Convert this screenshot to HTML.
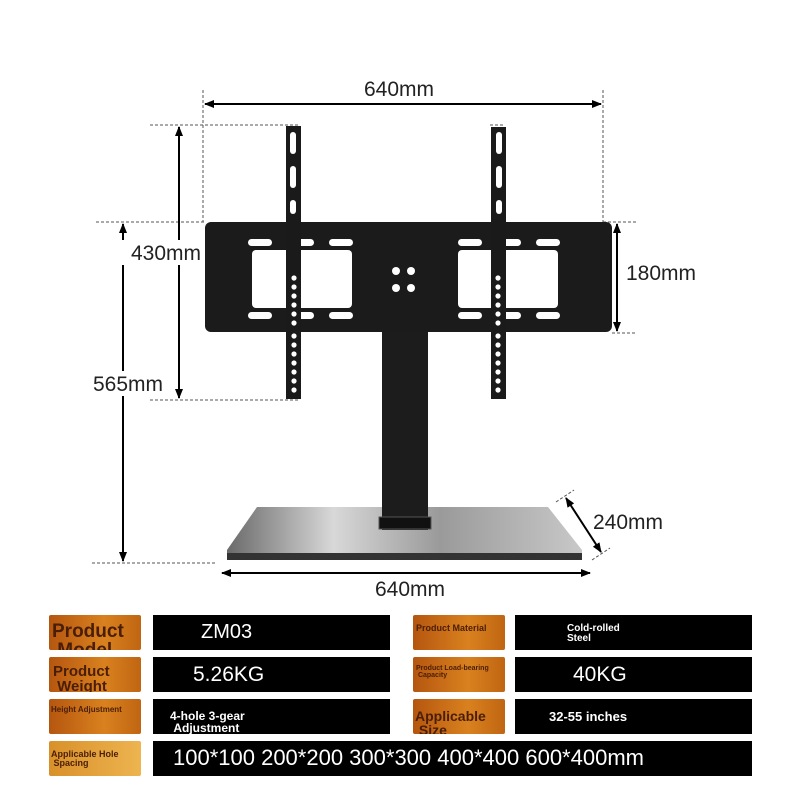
<!DOCTYPE html>
<html><head><meta charset="utf-8"><style>
body{margin:0;background:#fff;width:800px;height:800px;overflow:hidden;font-family:"Liberation Sans",sans-serif}
.lab{position:absolute;border-radius:2px;background:linear-gradient(90deg,#b5560f,#d9811f 60%,#c06512);color:#4a1e06;font-weight:bold;overflow:hidden;line-height:1}
.val{position:absolute;background:#000;color:#fff;line-height:1}
</style></head><body>
<svg width="800" height="800" style="position:absolute;left:0;top:0">
<defs>
<marker id="a" markerWidth="10" markerHeight="8" refX="9" refY="4" orient="auto-start-reverse" markerUnits="userSpaceOnUse"><path d="M0,0 L10,4 L0,8 z" fill="#000"/></marker>
<linearGradient id="base" x1="0" x2="1"><stop offset="0" stop-color="#6a6a6a"/><stop offset=".3" stop-color="#d8d8d8"/><stop offset=".6" stop-color="#9a9a9a"/><stop offset="1" stop-color="#c8c8c8"/></linearGradient>
</defs>
<g stroke="#555" stroke-dasharray="3,2" stroke-width="1" fill="none">
<line x1="203" y1="90" x2="203" y2="222"/><line x1="603" y1="90" x2="603" y2="222"/>
<line x1="150" y1="125" x2="300" y2="125"/><line x1="490" y1="125" x2="505" y2="125"/>
<line x1="96" y1="222" x2="205" y2="222"/><line x1="603" y1="222" x2="636" y2="222"/>
<line x1="150" y1="400" x2="300" y2="400"/><line x1="612" y1="333" x2="636" y2="333"/>
<line x1="92" y1="563" x2="215" y2="563"/>
<line x1="556" y1="502" x2="574" y2="490"/><line x1="592" y1="560" x2="610" y2="548"/>
</g>
<g stroke="#000" stroke-width="2" marker-start="url(#a)" marker-end="url(#a)">
<line x1="205" y1="104" x2="601" y2="104"/>
<line x1="179" y1="127" x2="179" y2="398"/>
<line x1="123" y1="224" x2="123" y2="561"/>
<line x1="617" y1="224" x2="617" y2="331"/>
<line x1="566" y1="498" x2="601" y2="552"/>
<line x1="222" y1="573" x2="590" y2="573"/>
</g>
<rect x="120" y="240" width="88" height="25" fill="#fff"/>
<rect x="88" y="371" width="80" height="25" fill="#fff"/>
<path d="M257,507 L548,507 L582,550 L582,560 L227,560 L227,550 Z" fill="url(#base)"/>
<rect x="227" y="553" width="355" height="7" fill="#333"/>
<rect x="382" y="330" width="46" height="200" fill="#1c1c1c"/>
<rect x="379" y="517" width="52" height="12" fill="#111" stroke="#555"/>
<rect x="205" y="222" width="407" height="110" rx="6" fill="#1b1b1b"/>
<g fill="#fff">
<rect x="252" y="250" width="100" height="58" rx="4"/><rect x="458" y="250" width="100" height="58" rx="4"/>
<rect x="248" y="239" width="24" height="7" rx="3.5"/><rect x="290" y="239" width="24" height="7" rx="3.5"/><rect x="329" y="239" width="24" height="7" rx="3.5"/>
<rect x="458" y="239" width="24" height="7" rx="3.5"/><rect x="497" y="239" width="24" height="7" rx="3.5"/><rect x="536" y="239" width="24" height="7" rx="3.5"/>
<rect x="248" y="312" width="24" height="7" rx="3.5"/><rect x="290" y="312" width="24" height="7" rx="3.5"/><rect x="329" y="312" width="24" height="7" rx="3.5"/>
<rect x="458" y="312" width="24" height="7" rx="3.5"/><rect x="497" y="312" width="24" height="7" rx="3.5"/><rect x="536" y="312" width="24" height="7" rx="3.5"/>
<circle cx="396" cy="271" r="4"/><circle cx="411" cy="271" r="4"/><circle cx="396" cy="288" r="4"/><circle cx="411" cy="288" r="4"/>
</g>
<g fill="#1a1a1a"><rect x="286" y="126" width="15" height="273"/><rect x="491" y="127" width="15" height="272"/></g>
<g fill="#fff">
<rect x="290" y="132" width="6" height="22" rx="3"/><rect x="290" y="166" width="6" height="22" rx="3"/><rect x="290" y="200" width="6" height="14" rx="3"/>
<rect x="496" y="132" width="6" height="22" rx="3"/><rect x="496" y="166" width="6" height="22" rx="3"/><rect x="496" y="200" width="6" height="14" rx="3"/>
</g>
<g fill="#fff">
<circle cx="294" cy="278" r="2.6"/><circle cx="294" cy="287" r="2.6"/><circle cx="294" cy="296" r="2.6"/><circle cx="294" cy="305" r="2.6"/><circle cx="294" cy="314" r="2.6"/><circle cx="294" cy="323" r="2.6"/><circle cx="294" cy="336" r="2.6"/><circle cx="294" cy="345" r="2.6"/><circle cx="294" cy="354" r="2.6"/><circle cx="294" cy="363" r="2.6"/><circle cx="294" cy="372" r="2.6"/><circle cx="294" cy="381" r="2.6"/><circle cx="294" cy="390" r="2.6"/>
<circle cx="498" cy="278" r="2.6"/><circle cx="498" cy="287" r="2.6"/><circle cx="498" cy="296" r="2.6"/><circle cx="498" cy="305" r="2.6"/><circle cx="498" cy="314" r="2.6"/><circle cx="498" cy="323" r="2.6"/><circle cx="498" cy="336" r="2.6"/><circle cx="498" cy="345" r="2.6"/><circle cx="498" cy="354" r="2.6"/><circle cx="498" cy="363" r="2.6"/><circle cx="498" cy="372" r="2.6"/><circle cx="498" cy="381" r="2.6"/><circle cx="498" cy="390" r="2.6"/>
</g>
<g font-family="Liberation Sans,sans-serif" font-size="21" fill="#222">
<text x="399" y="96" text-anchor="middle">640mm</text>
<text x="166" y="260" text-anchor="middle">430mm</text>
<text x="128" y="391" text-anchor="middle">565mm</text>
<text x="661" y="280" text-anchor="middle">180mm</text>
<text x="628" y="529" text-anchor="middle">240mm</text>
<text x="410" y="596" text-anchor="middle">640mm</text>
</g>
</svg>
<div class="lab" style="left:49px;top:615px;width:92px;height:35px;font-size:19px;padding:7px 0 0 3px;box-sizing:border-box">Product<br>&nbsp;Model</div>
<div class="val" style="left:153px;top:615px;width:237px;height:35px;font-size:20px;padding:7px 0 0 48px;box-sizing:border-box">ZM03</div>
<div class="lab" style="left:413px;top:615px;width:92px;height:35px;font-size:9px;padding:9px 0 0 3px;box-sizing:border-box">Product Material</div>
<div class="val" style="left:515px;top:615px;width:237px;height:35px;font-size:10px;font-weight:bold;padding:9px 0 0 52px;box-sizing:border-box">Cold-rolled<br>Steel</div>
<div class="lab" style="left:49px;top:657px;width:92px;height:35px;font-size:15px;padding:7px 0 0 4px;box-sizing:border-box">Product<br>&nbsp;Weight</div>
<div class="val" style="left:153px;top:657px;width:237px;height:35px;font-size:21px;padding:7px 0 0 40px;box-sizing:border-box">5.26KG</div>
<div class="lab" style="left:413px;top:657px;width:92px;height:35px;font-size:7px;padding:8px 0 0 3px;box-sizing:border-box">Product Load-bearing<br>&nbsp;Capacity</div>
<div class="val" style="left:515px;top:657px;width:237px;height:35px;font-size:21px;padding:7px 0 0 58px;box-sizing:border-box">40KG</div>
<div class="lab" style="left:49px;top:699px;width:92px;height:35px;font-size:8px;padding:7px 0 0 2px;box-sizing:border-box">Height Adjustment</div>
<div class="val" style="left:153px;top:699px;width:237px;height:35px;font-size:12px;font-weight:bold;padding:11px 0 0 17px;box-sizing:border-box">4-hole 3-gear<br>&nbsp;Adjustment</div>
<div class="lab" style="left:413px;top:699px;width:92px;height:35px;font-size:14px;padding:10px 0 0 2px;box-sizing:border-box">Applicable<br>&nbsp;Size</div>
<div class="val" style="left:515px;top:699px;width:237px;height:35px;font-size:13px;font-weight:bold;padding:11px 0 0 34px;box-sizing:border-box">32-55 inches</div>
<div class="lab" style="left:49px;top:741px;width:92px;height:35px;font-size:9px;padding:9px 0 0 2px;box-sizing:border-box;background:linear-gradient(90deg,#d9902a,#edb450)">Applicable Hole<br>&nbsp;Spacing</div>
<div class="val" style="left:153px;top:741px;width:599px;height:35px;font-size:22px;padding:6px 0 0 20px;box-sizing:border-box">100*100 200*200 300*300 400*400 600*400mm</div>
</body></html>
